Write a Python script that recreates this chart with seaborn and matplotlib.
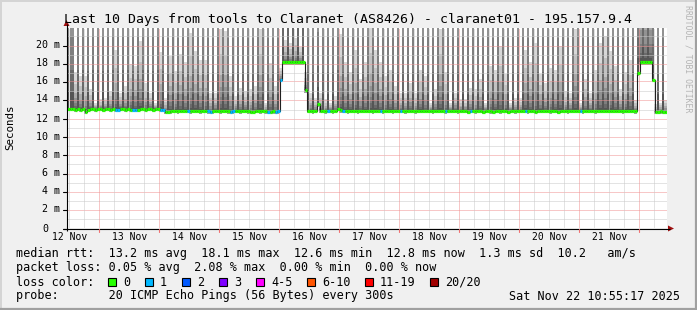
import numpy as np
import matplotlib
matplotlib.use("Agg")
import matplotlib.pyplot as plt
import seaborn as sns
from matplotlib.patches import Rectangle, Polygon

# ---------------- data ----------------
FULL = 60.0  # smoke reaching far above the visible range

# hourly median RTT in ms (240 hours = 10 days, starting Nov 12 ~10:55)
median_ms = [
    13.05, 13.0, 13.0, 12.95, 13.0, 12.95, 13.0, 12.7, 12.95, 13.0, 13.0, 12.95, 13.0, 13.0, 12.95, 13.0, 13.0, 12.95, 13.0, 12.95, 12.95, 13.05, 13.0, 12.95,
    13.0, 12.95, 12.95, 12.95, 12.95, 13.0, 13.0, 12.9, 13.0, 13.0, 12.95, 13.0, 13.0, 12.95, 12.95, 12.7, 12.7, 12.75, 12.8, 12.8, 12.75, 12.8, 12.8, 12.8,
    12.8, 12.75, 12.8, 12.8, 12.8, 12.75, 12.8, 12.8, 12.75, 12.7, 12.75, 12.8, 12.8, 12.75, 12.8, 12.8, 12.75, 12.7, 12.75, 12.8, 12.8, 12.75, 12.8, 12.8,
    12.75, 12.7, 12.7, 12.8, 12.8, 12.75, 12.8, 12.75, 12.7, 12.7, 12.75, 12.7, 12.75, 16.2, 18.1, 18.1, 18.1, 18.1, 18.1, 18.1, 18.1, 18.1, 18.1, 15.05,
    12.8, 12.8, 12.75, 12.8, 13.5, 12.8, 12.8, 12.75, 12.8, 12.8, 12.75, 12.8, 13.05, 12.85, 12.8, 12.8, 12.75, 12.8, 12.8, 12.8, 12.75, 12.8, 12.8, 12.8,
    12.8, 12.8, 12.75, 12.8, 12.8, 12.8, 12.75, 12.8, 12.8, 12.8, 12.75, 12.8, 12.8, 12.8, 12.8, 12.75, 12.8, 12.8, 12.8, 12.75, 12.8, 12.8, 12.8, 12.8,
    12.8, 12.8, 12.75, 12.8, 12.8, 12.8, 12.8, 12.75, 12.8, 12.8, 12.8, 12.8, 12.75, 12.8, 12.8, 12.8, 12.7, 12.8, 12.8, 12.75, 12.8, 12.8, 12.7, 12.8,
    12.8, 12.75, 12.7, 12.8, 12.8, 12.75, 12.8, 12.8, 12.7, 12.8, 12.8, 12.75, 12.8, 12.8, 12.8, 12.8, 12.75, 12.8, 12.8, 12.7, 12.8, 12.8, 12.8, 12.8,
    12.8, 12.75, 12.8, 12.8, 12.7, 12.8, 12.8, 12.8, 12.75, 12.8, 12.8, 12.8, 12.8, 12.8, 12.75, 12.8, 12.8, 12.8, 12.8, 12.75, 12.8, 12.8, 12.8, 12.8,
    12.8, 12.8, 12.8, 12.8, 12.8, 12.8, 12.75, 12.8, 12.8, 12.8, 12.8, 12.75, 16.9, 18.1, 18.1, 18.1, 18.1, 18.1, 16.2, 12.7, 12.7, 12.75, 12.7, 12.7,
]

# hourly maximum of the smoke (ms)
smoke_top_ms = [
    FULL, FULL, FULL, 17.0, FULL, 16.6, FULL, 16.6, FULL, 15.15, FULL, 13.7, FULL, 14.05, FULL, 14.25, FULL, 15.0, FULL, 19.5, FULL, 14.8, FULL, 15.5,
    FULL, 17.9, FULL, 17.7, FULL, 20.4, FULL, 15.9, FULL, 14.8, FULL, 13.7, FULL, 19.2, FULL, 14.25, FULL, 18.8, FULL, 17.15, FULL, 19.0, FULL, 18.1,
    FULL, 21.35, FULL, 19.35, FULL, 18.4, FULL, 18.4, FULL, 14.8, FULL, 14.8, FULL, 21.7, FULL, 21.5, FULL, 16.6, FULL, 14.4, FULL, 15.3, FULL, 15.0,
    FULL, 15.15, FULL, 15.5, FULL, 21.7, FULL, 13.7, FULL, 18.0, FULL, 15.5, FULL, 17.5, FULL, 20.6, FULL, 20.2, FULL, 20.8, FULL, 19.8, FULL, 17.0,
    FULL, 14.8, FULL, 14.25, FULL, 14.8, FULL, 14.05, FULL, 13.7, FULL, 14.4, FULL, 21.2, FULL, 18.1, FULL, 17.0, FULL, 19.5, FULL, 16.25, FULL, 18.1,
    FULL, 21.9, FULL, 19.5, FULL, 18.1, FULL, 16.6, FULL, 17.3, FULL, 15.5, FULL, 14.8, FULL, 14.8, FULL, 15.9, FULL, 14.8, FULL, 17.3, FULL, 16.6,
    FULL, 13.7, FULL, 15.15, FULL, 21.7, FULL, 17.0, FULL, 13.7, FULL, 14.8, FULL, 14.05, FULL, 14.05, FULL, 15.3, FULL, 15.15, FULL, 16.25, FULL, 13.7,
    FULL, 17.7, FULL, 17.3, FULL, 19.9, FULL, 16.8, FULL, 13.7, FULL, 14.25, FULL, 14.25, FULL, 19.5, FULL, 18.1, FULL, 20.25, FULL, 16.8, FULL, 15.9,
    FULL, 17.5, FULL, 17.3, FULL, 19.9, FULL, 15.0, FULL, 14.8, FULL, 21.7, FULL, 13.7, FULL, 16.25, FULL, 14.8, FULL, 17.3, FULL, 20.25, FULL, 21.0,
    FULL, 19.35, FULL, 17.7, FULL, 15.15, FULL, 17.0, FULL, 18.4, FULL, 14.0, FULL, 30.0, FULL, 30.0, FULL, 30.0, FULL, 13.5, FULL, 13.7, FULL, 14.0,
]

loss_one_hours = [19, 20, 26, 27, 37, 38, 48, 56, 57, 65, 66, 80, 83, 84, 85,
                  104, 110, 125, 133, 151, 161, 183, 205]

day_labels = ["12 Nov", "13 Nov", "14 Nov", "15 Nov", "16 Nov",
              "17 Nov", "18 Nov", "19 Nov", "20 Nov", "21 Nov"]
y_tick_values = [0, 2, 4, 6, 8, 10, 12, 14, 16, 18, 20]

title = "Last 10 Days from tools to Claranet (AS8426) - claranet01 - 195.157.9.4"
rtt_line = "median rtt:  13.2 ms avg  18.1 ms max  12.6 ms min  12.8 ms now  1.3 ms sd  10.2   am/s"
loss_line = "packet loss: 0.05 % avg  2.08 % max  0.00 % min  0.00 % now"
probe_line = "probe:       20 ICMP Echo Pings (56 Bytes) every 300s"
stamp = "Sat Nov 22 10:55:17 2025"
loss_names = ["0", "1", "2", "3", "4-5", "6-10", "11-19", "20/20"]
loss_colors = ["#26ff00", "#00b8ff", "#0059ff", "#7e00ff", "#ff00ff",
               "#ff5500", "#ff0000", "#a10000"]

# ---------------- style ----------------
sns.set_theme(style="white")
plt.rcParams["font.family"] = ["DejaVu Sans Mono", "DejaVu Sans"]

W, H = 697, 310
L, R, T, B = 67, 667, 28, 228
YMAX = 21.86
fig = plt.figure(figsize=(W / 100, H / 100), dpi=100, facecolor="#f0f0f0")
ax = fig.add_axes([L / W, 1 - B / H, (R - L) / W, (B - T) / H])
ax.set_facecolor("white")
ax.set_xlim(0, 240)
ax.set_ylim(0, YMAX)
for s in ax.spines.values():
    s.set_visible(False)
ax.set_xticks([])
ax.set_yticks([])

px_per_ms = (B - T) / YMAX
px_per_h = (R - L) / 240


def snap_y(v):
    d = (H - B) + v * px_per_ms
    return (np.floor(d) + 0.5 - (H - B)) / px_per_ms


def snap_x(h):
    d = L + h * px_per_h
    return (np.floor(d) + 0.5 - L) / px_per_h


hours = np.arange(len(median_ms))
med = np.array(median_ms)
top = np.array(smoke_top_ms)
is_full = top >= FULL
bar_left = np.where(is_full, hours + 0.1, hours - 0.1)
bar_w = np.where(is_full, 0.8, 1.2)

# smoke: nested bands, darker near the median
fracs = [0, 0.04, 0.09, 0.17, 0.3, 0.45, 0.7, 1.0]
greys = ["#555555", "#6a6a6a", "#7e7e7e", "#929292", "#aaaaaa", "#c2c2c2", "#d8d8d8"]
ax.bar(bar_left, 0.25, bottom=med - 0.25, width=bar_w, align="edge", color="#a0a0a0",
       linewidth=0, antialiased=False, zorder=2)
for k in range(len(greys)):
    lo = med + (top - med) * fracs[k]
    hi = med + (top - med) * fracs[k + 1]
    ax.bar(bar_left, hi - lo, bottom=lo, width=bar_w, align="edge", color=greys[k],
           linewidth=0, antialiased=False, zorder=2)

# grid (dotted, pixel-aligned, drawn over the smoke)
dot = (0, (1, 1))
for v in range(1, 22):
    major = v % 2 == 0
    ax.axhline(snap_y(v), color="#f09090" if major else "#c8c8c8", lw=0.72, ls=dot,
               zorder=3)
for hgrid in np.arange(0.5, 240, 6):
    major = abs((hgrid - 12.5) % 24) < 1e-6
    ax.axvline(snap_x(hgrid), color="#f09090" if major else "#c8c8c8", lw=0.72, ls=dot,
               zorder=3)

# median: thin dark step line + loss-coloured segments
xs = np.append(hours, 240)
ys = np.append(med, med[-1])
sns.lineplot(x=xs, y=ys, drawstyle="steps-post", color="#202020", linewidth=0.8,
             ax=ax, zorder=4, estimator=None, legend=False)
seg_colors = [loss_colors[1] if h in loss_one_hours else loss_colors[0] for h in hours]
ax.hlines(med, hours, hours + 1, colors=seg_colors, linewidth=2.3, zorder=5,
          capstyle="butt")

# ---------------- overlay in pixel coordinates ----------------
ov = fig.add_axes([0, 0, 1, 1])
ov.set_xlim(0, W)
ov.set_ylim(H, 0)
ov.axis("off")
ov.patch.set_alpha(0)

# frame
ov.plot([0, W], [0.5, 0.5], color="#d4d4d4", lw=1.4)
ov.plot([0.5, 0.5], [0, H], color="#d4d4d4", lw=1.4)
ov.plot([0, W], [H - 1, H - 1], color="#a0a0a0", lw=1.6)
ov.plot([W - 1, W - 1], [0, H], color="#a0a0a0", lw=1.6)

# axes with arrows
ov.plot([63, 670], [B + 0.5, B + 0.5], color="black", lw=0.8, solid_capstyle="butt")
ov.plot([L - 0.5, L - 0.5], [B + 3, 24], color="black", lw=0.8, solid_capstyle="butt")
ov.add_patch(Polygon([[668, 225.5], [668, 231.5], [674, 228.5]], closed=True,
                     color="#a01010", lw=0))
ov.add_patch(Polygon([[63.5, 26], [69.5, 26], [66.5, 20]], closed=True,
                     color="#a01010", lw=0))

for v in y_tick_values:
    yy = np.floor(B - v * px_per_ms) + 0.5
    ov.plot([63, L - 0.5], [yy, yy], color="black", lw=0.8)
    if v == 0:
        ov.text(48, yy, "0", ha="right", va="center", fontsize=7.2, color="black")
    else:
        ov.text(60, yy, f"{v} m", ha="right", va="center", fontsize=7.2, color="black")

for k in range(10):
    xm = np.floor(L + (12.5 + 24 * k) * px_per_h) + 0.5
    ov.plot([xm, xm], [B + 1, B + 4], color="#f07070", lw=0.8)
for k, lab in enumerate(day_labels):
    xl = L + (1.0 + 24 * k) * px_per_h
    ov.text(xl, 237, lab, ha="center", va="center", fontsize=7.0, color="black")

ov.text(347.5, 19, title, ha="center", va="center", fontsize=9.5, color="black")
ov.text(10.5, 127, "Seconds", rotation=90, ha="center", va="center", fontsize=7.8,
        color="black")
ov.text(688, 59, "RRDTOOL / TOBI OETIKER", rotation=-90, ha="center", va="center",
        fontsize=5.9, color="#b4b4b4")

# legend
fs = 8.45
ov.text(16, 254, rtt_line, ha="left", va="center", fontsize=fs, color="black")
ov.text(16, 268, loss_line, ha="left", va="center", fontsize=fs, color="black")
ov.text(16, 282, "loss color:", ha="left", va="center", fontsize=fs, color="black")
box_x = [108, 145, 182, 219, 256, 307, 365, 430]
for bx, name, col in zip(box_x, loss_names, loss_colors):
    ov.add_patch(Rectangle((bx, 277.5), 8, 8, facecolor=col, edgecolor="black", lw=0.8))
    ov.text(bx + 15, 282, name, ha="left", va="center", fontsize=fs, color="black")
ov.text(16, 296, probe_line, ha="left", va="center", fontsize=fs, color="black")
ov.text(680, 296, stamp, ha="right", va="center", fontsize=fs, color="black")

fig.savefig("out.png", dpi=100, facecolor=fig.get_facecolor())
